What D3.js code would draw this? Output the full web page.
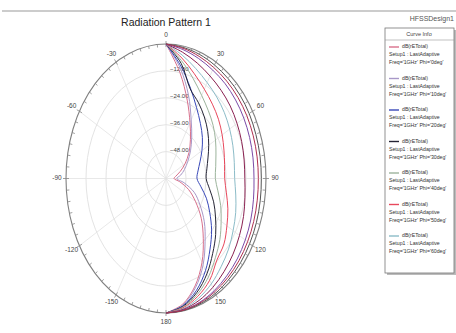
<!DOCTYPE html>
<html>
<head>
<meta charset="utf-8">
<script src="https://cdn.jsdelivr.net/npm/d3@7"></script>
<style>
  body { margin: 0; background: #fff; }
  svg { display: block; font-family: "Liberation Sans", Arial, sans-serif; }
</style>
</head>
<body>
<svg id="chart" width="456" height="333"></svg>
<script>
// theta sweep (deg) shared by every curve
const thetas = [0, 10, 20, 30, 40, 50, 60, 70, 80, 90, 100, 110, 120, 130, 140, 150, 160, 170, 180];

// dB(rETotal) per Phi cut
const phiLabels = ["0deg", "10deg", "20deg", "30deg", "40deg", "50deg", "60deg", "70deg", "80deg", "90deg", "100deg"];
const db0 = [0, -12, -22.8, -31.2, -37.2, -42, -46.8, -51, -54, -55.2, -51.6, -45.6, -39.6, -32.4, -25.2, -16.8, -9, -3, 0];
const db1 = [0, -10.2, -20.5, -29.8, -36.0, -40.8, -45.0, -48.2, -51.0, -53.5, -49.0, -42.0, -36.5, -30.0, -23.5, -15.5, -8.2, -2.6, 0];
const db2 = [0, -9.0, -17.1, -23.4, -27.9, -31.5, -35.1, -38.3, -40.5, -41.4, -38.7, -34.2, -29.7, -24.3, -18.9, -12.6, -6.8, -2.3, 0];
const db3 = [0, -7.8, -17.5, -21.0, -24.2, -27.3, -30.4, -33.2, -35.1, -35.9, -33.5, -29.6, -25.7, -21.1, -16.4, -10.9, -5.9, -2.0, 0];
const db4 = [0, -6.6, -12.5, -17.2, -20.5, -23.1, -25.7, -28.1, -29.7, -30.4, -28.4, -25.1, -21.8, -17.8, -13.9, -9.2, -5.0, -1.7, 0];
const db5 = [0, -5.4, -10.3, -14.0, -16.7, -18.9, -21.1, -23.0, -24.3, -24.8, -23.2, -20.5, -17.8, -14.6, -12.5, -7.6, -4.1, -1.4, 0];
const db6 = [0, -4.1, -7.8, -10.6, -12.6, -14.3, -15.9, -17.3, -18.4, -18.8, -17.5, -15.5, -13.5, -11.0, -8.6, -5.7, -3.1, -1.0, 0];
const db7 = [0, -2.8, -5.2, -7.2, -8.6, -9.7, -10.8, -11.7, -12.4, -12.7, -11.9, -10.5, -9.1, -7.5, -5.8, -3.9, -2.1, -0.7, 0];
const db8 = [0, -1.6, -3.0, -4.1, -4.8, -5.5, -6.1, -6.6, -7.0, -7.2, -6.7, -5.9, -5.1, -4.2, -3.3, -2.2, -1.2, -0.4, 0];
const db9 = [0, -0.6, -1.1, -1.6, -1.9, -2.1, -2.3, -2.6, -2.7, -2.8, -2.6, -2.3, -2.0, -1.6, -1.3, -0.8, -0.5, -0.2, 0];
const db10 = [0, -1.0, -2.0, -2.8, -3.3, -3.7, -4.0, -4.3, -4.5, -4.6, -4.4, -4.0, -3.5, -2.9, -2.3, -1.6, -0.9, -0.3, 0];
const seriesDb = [db0, db1, db2, db3, db4, db5, db6, db7, db8, db9, db10];
const colors = ["#d8708c", "#a898c8", "#3848b8", "#242434", "#9cb49c", "#e8485c", "#8cbcc8", "#8a2050", "#7a4aa8", "#555555", "#b03050"];

// axis labels
const ringValues = [-12, -24, -36, -48];
const angleTicks = [0, 30, 60, 90, 120, 150, 180, 210, 240, 270, 300, 330];
const angleLabels = ["0", "30", "60", "90", "120", "150", "180", "-150", "-120", "-90", "-60", "-30"];
const legendCount = 7;

const svg = d3.select("#chart");

// plot window frame + titles
svg.append("line").attr("x1", 2).attr("x2", 456).attr("y1", 11).attr("y2", 11)
    .attr("stroke", "#999").attr("stroke-width", 1.2);
svg.append("text").attr("x", 166).attr("y", 26).attr("text-anchor", "middle")
    .attr("font-size", 10.5).attr("fill", "#222").text("Radiation Pattern 1");
svg.append("text").attr("x", 454).attr("y", 21).attr("text-anchor", "end")
    .attr("font-size", 7).attr("fill", "#555").text("HFSSDesign1");

// polar area is stretched: different x/y radius
const cx = 166, cy = 178.5, rx = 100, ry = 134.5;
const r = d3.scaleLinear().domain([-60, 0]).range([0, 1]).clamp(true);
const x = d3.scaleLinear().domain([-1, 1]).range([cx - rx, cx + rx]);
const y = d3.scaleLinear().domain([-1, 1]).range([cy + ry, cy - ry]);
const rad = d => d * Math.PI / 180;

const grid = svg.append("g");
ringValues.forEach(v => {
    grid.append("ellipse").attr("cx", cx).attr("cy", cy)
        .attr("rx", x(r(v)) - cx).attr("ry", cy - y(r(v)))
        .attr("fill", "none").attr("stroke", "#dcdcdc").attr("stroke-width", 0.8);
});
angleTicks.forEach(a => {
    grid.append("line").attr("x1", cx).attr("y1", cy)
        .attr("x2", x(Math.sin(rad(a)))).attr("y2", y(Math.cos(rad(a))))
        .attr("stroke", "#e2e2e2").attr("stroke-width", 0.8);
});

// outer ellipse with ticks every 5 deg
grid.append("ellipse").attr("cx", cx).attr("cy", cy).attr("rx", rx).attr("ry", ry)
    .attr("fill", "none").attr("stroke", "#808080").attr("stroke-width", 1.1);
d3.range(0, 360, 5).forEach(a => {
    const s = Math.sin(rad(a)), c = Math.cos(rad(a));
    const px = x(s), py = y(c);
    const major = a % 30 === 0;
    grid.append("line")
        .attr("x1", px - s * 3).attr("y1", py + c * 3)
        .attr("x2", px + s * (major ? 3 : 0)).attr("y2", py - c * (major ? 3 : 0))
        .attr("stroke", "#888").attr("stroke-width", 0.8);
});

// angle labels
angleTicks.forEach((a, i) => {
    const s = Math.sin(rad(a)), c = Math.cos(rad(a));
    svg.append("text").attr("x", x(s) + s * 9).attr("y", y(c) - c * 9)
        .attr("text-anchor", "middle").attr("dominant-baseline", "middle")
        .attr("font-size", 6.5).attr("fill", "#444").text(angleLabels[i]);
});

// radial labels
ringValues.forEach(v => {
    svg.append("text").attr("x", cx + 4).attr("y", y(r(v)) - 1)
        .attr("dominant-baseline", "middle")
        .attr("font-size", 6).attr("fill", "#444").text(d3.format(".2f")(v));
});

// pattern curves
const line = d3.line()
    .x(d => x(r(d.db) * Math.sin(rad(d.theta))))
    .y(d => y(r(d.db) * Math.cos(rad(d.theta))))
    .curve(d3.curveCatmullRom.alpha(0.5));

seriesDb.forEach((vals, i) => {
    const pts = thetas.map((t, j) => ({ theta: t, db: vals[j] }));
    svg.append("path").datum(pts)
        .attr("fill", "none").attr("stroke", colors[i]).attr("stroke-width", 1)
        .attr("d", line);
});

// legend box
const lg = svg.append("g");
lg.append("rect").attr("x", 387).attr("y", 30).attr("width", 69).attr("height", 245)
    .attr("fill", "#bbb");
lg.append("rect").attr("x", 385).attr("y", 28).attr("width", 69).attr("height", 245)
    .attr("fill", "#fff").attr("stroke", "#777").attr("stroke-width", 0.8);
lg.append("text").attr("x", 419).attr("y", 35).attr("text-anchor", "middle")
    .attr("dominant-baseline", "middle").attr("font-size", 5.5).attr("fill", "#444").text("Curve Info");
lg.append("line").attr("x1", 385).attr("x2", 454).attr("y1", 40).attr("y2", 40)
    .attr("stroke", "#999").attr("stroke-width", 0.6);

for (let i = 0; i < legendCount; i++) {
    const by = 47 + i * 31.5;
    lg.append("line").attr("x1", 389).attr("x2", 399).attr("y1", by).attr("y2", by)
        .attr("stroke", colors[i]).attr("stroke-width", 1.4);
    const rows = [["dB(rETotal)", 402], ["Setup1 : LastAdaptive", 389], ["Freq='1GHz' Phi='" + phiLabels[i] + "'", 389]];
    rows.forEach((row, k) => {
        lg.append("text").attr("x", row[1]).attr("y", by + k * 8)
            .attr("dominant-baseline", "middle").attr("font-size", 5.2).attr("fill", "#333")
            .text(row[0]);
    });
}
</script>
</body>
</html>
